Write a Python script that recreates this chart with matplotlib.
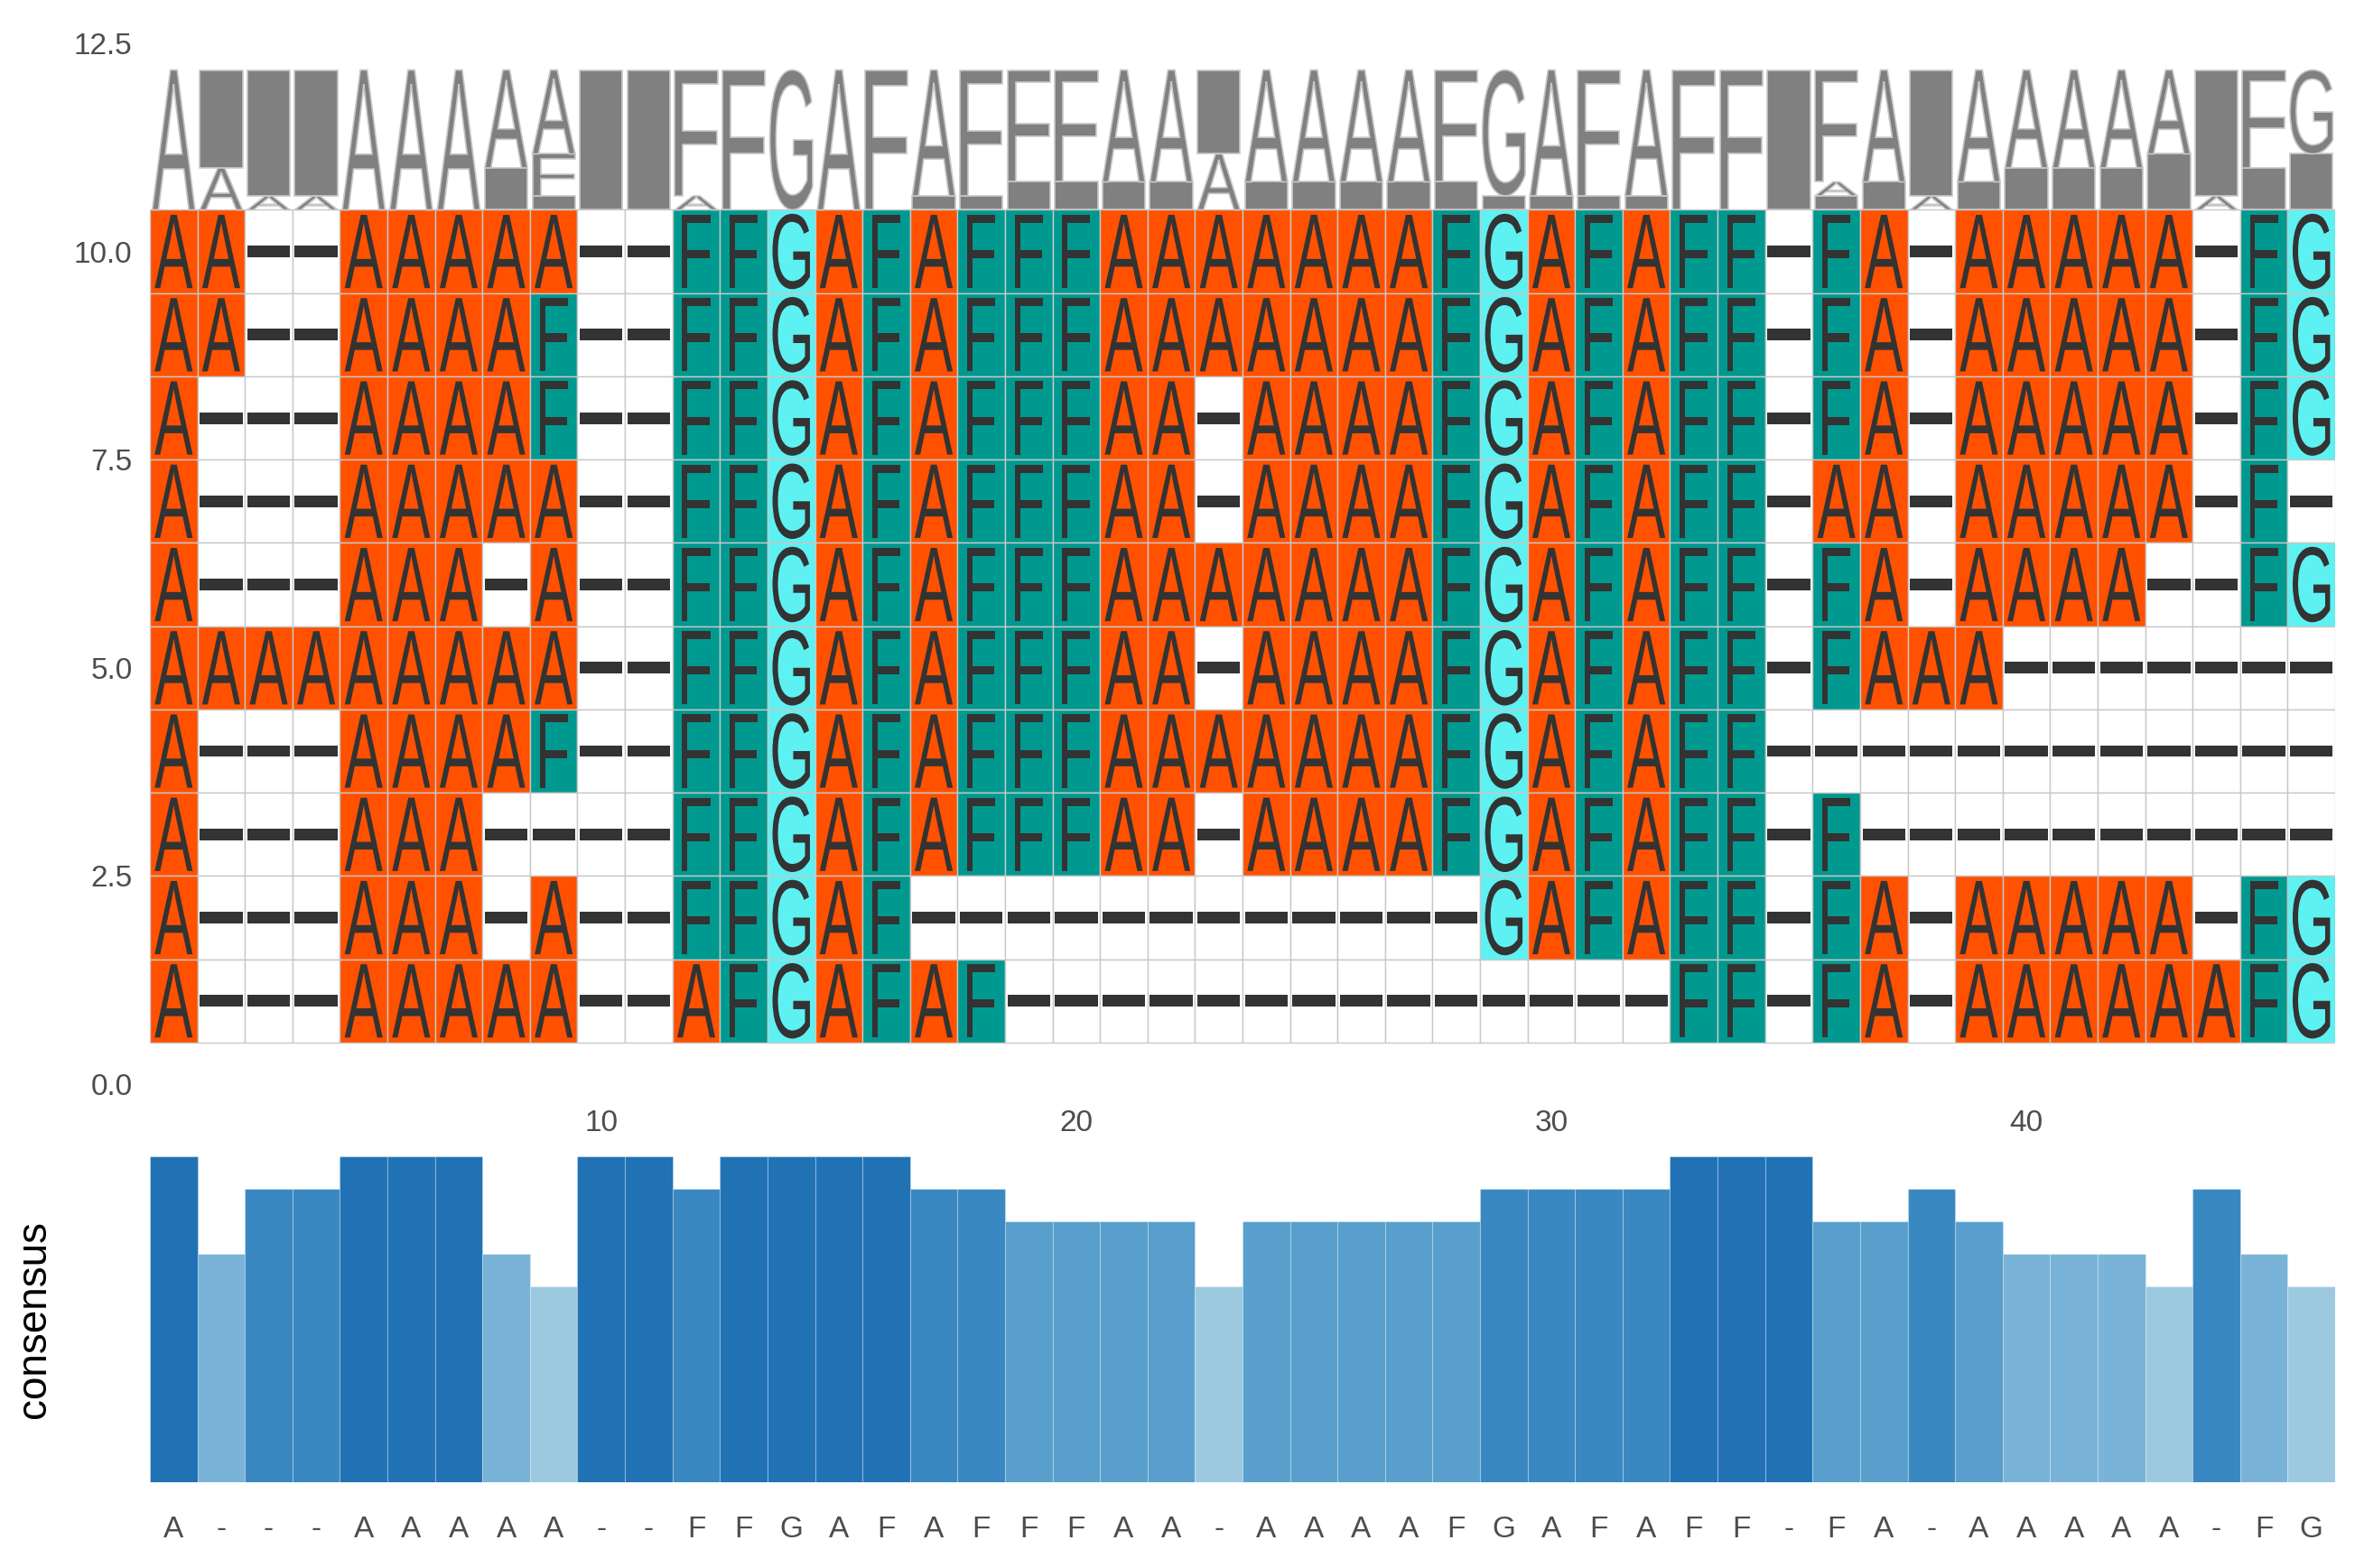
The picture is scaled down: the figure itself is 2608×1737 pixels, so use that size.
import matplotlib
matplotlib.use("Agg")
import matplotlib.pyplot as plt
from matplotlib.textpath import TextPath
from matplotlib.font_manager import FontProperties
from matplotlib.patches import PathPatch, Rectangle
from matplotlib.transforms import Affine2D
from collections import Counter

# ---------------- data ----------------
row_positions = [10, 9, 8, 7, 6, 5, 4, 3, 2, 1]
sequences = [
    "AA--AAAAA--FFGAFAFFFAAAAAAAFGAFAFF-FA-AAAAA-FG",
    "AA--AAAAF--FFGAFAFFFAAAAAAAFGAFAFF-FA-AAAAA-FG",
    "A---AAAAF--FFGAFAFFFAA-AAAAFGAFAFF-FA-AAAAA-FG",
    "A---AAAAA--FFGAFAFFFAA-AAAAFGAFAFF-AA-AAAAA-F-",
    "A---AAA-A--FFGAFAFFFAAAAAAAFGAFAFF-FA-AAAA--FG",
    "AAAAAAAAA--FFGAFAFFFAA-AAAAFGAFAFF-FAAA-------",
    "A---AAAAF--FFGAFAFFFAAAAAAAFGAFAFF------------",
    "A---AAA----FFGAFAFFFAA-AAAAFGAFAFF-F----------",
    "A---AAA-A--FFGAF------------GAFAFF-FA-AAAAA-FG",
    "A---AAAAA--AFGAFAF--------------FF-FA-AAAAAAFG",
]
n_cols = len(sequences[0])
positions = list(range(1, n_cols + 1))
position_ticks = [10, 20, 30, 40]
y_ticks = [0.0, 2.5, 5.0, 7.5, 10.0, 12.5]

residue_colors = {"A": "#FF5100", "F": "#00998F", "G": "#5EF1F2"}
conservation_colors = {10: "#2171B5", 9: "#3A88C1", 8: "#589FCD", 7: "#7AB3D8", 6: "#9DC9E0"}

# ---------------- layout ----------------
W, H, DPI = 2608, 1737, 200
fig = plt.figure(figsize=(W / DPI, H / DPI), dpi=DPI)
fig.patch.set_facecolor("white")

FP = FontProperties(family="Liberation Sans")
TXT = "#4D4D4D"

left, right = 166 / W, 2586 / W
ax = fig.add_axes([left, 1 - 1201 / H, right - left, (1201 - 48) / H])
ax2 = fig.add_axes([left, 1 - 1641.6 / H, right - left, (1641.6 - 1280.7) / H])

path_cache = {}
def glyph(ch):
    if ch not in path_cache:
        tp = TextPath((0, 0), ch, size=1, prop=FP)
        path_cache[ch] = (tp, tp.get_extents())
    return path_cache[ch]

def box_glyph(ch, x0, y0, w, h, **kw):
    tp, bb = glyph(ch)
    tr = (Affine2D().translate(-bb.x0, -bb.y0)
          .scale(w / bb.width, h / bb.height).translate(x0, y0))
    return PathPatch(tr.transform_path(tp), **kw)

# ---------------- alignment tiles ----------------
_, bbA = glyph("A")
kx = 0.80 / bbA.width
ky = 0.88 / bbA.height
for yrow, seq in zip(row_positions, sequences):
    for xpos, ch in zip(positions, seq):
        fc = residue_colors.get(ch, "white")
        ax.add_patch(Rectangle((xpos - 0.5, yrow - 0.5), 1, 1, facecolor=fc,
                               edgecolor="#C8C8C8", linewidth=0.5, zorder=1))
        if ch == "-":
            ax.add_patch(Rectangle((xpos - 0.45, yrow - 0.07), 0.9, 0.14,
                                   facecolor="#333333", edgecolor="none", zorder=2))
        else:
            _, bb = glyph(ch)
            w, h = bb.width * kx, bb.height * ky
            base = yrow - 0.5 + 0.06
            ax.add_patch(box_glyph(ch, xpos - w / 2, base + bb.y0 * ky, w, h,
                                   facecolor="#333333", edgecolor="none", zorder=2))

# ---------------- sequence logo ----------------
logo_bottom, logo_height = 10.5, 1.68
n_seq = len(sequences)
columns = ["".join(s[i] for s in sequences) for i in range(n_cols)]
for xpos, col in zip(positions, columns):
    cnt = sorted(Counter(col).items(), key=lambda kv: (kv[1], kv[0]))
    yb = logo_bottom
    for ch, c in cnt:
        h = c / n_seq * logo_height
        if ch == "-":
            ax.add_patch(Rectangle((xpos - 0.45, yb), 0.9, h, facecolor="#808080",
                                   edgecolor="#C8C8C8", linewidth=0.6, zorder=2))
        else:
            ax.add_patch(box_glyph(ch, xpos - 0.45, yb, 0.9, h, facecolor="#808080",
                                   edgecolor="#C8C8C8", linewidth=0.6, zorder=2))
        yb += h

ax.set_xlim(0.5, n_cols + 0.5)
ax.set_ylim(0, 12.5)
ax.set_yticks(y_ticks)
ax.set_yticklabels([f"{v:.1f}" for v in y_ticks])
ax.set_xticks(position_ticks)
ax.set_xticklabels([str(v) for v in position_ticks])
ax.tick_params(axis="both", length=0, labelsize=12, labelcolor=TXT)
ax.tick_params(axis="y", pad=7)
ax.tick_params(axis="x", pad=10)
for lab in ax.get_xticklabels() + ax.get_yticklabels():
    lab.set_fontfamily("Liberation Sans")
for s in ax.spines.values():
    s.set_visible(False)

# ---------------- consensus bars ----------------
consensus = []
consensus_count = []
for col in columns:
    ch, c = Counter(col).most_common(1)[0]
    consensus.append(ch)
    consensus_count.append(c)
bar_heights = [c / n_seq for c in consensus_count]
bar_colors = [conservation_colors[c] for c in consensus_count]
ax2.bar(positions, bar_heights, width=1.0, color=bar_colors,
        edgecolor=(1, 1, 1, 0.25), linewidth=0.4)
ax2.set_xlim(0.5, n_cols + 0.5)
ax2.set_ylim(0, 1)
ax2.set_yticks([])
ax2.set_xticks(positions)
ax2.set_xticklabels(consensus)
ax2.tick_params(axis="x", length=0, labelsize=12, labelcolor=TXT, pad=13.5)
for lab in ax2.get_xticklabels():
    lab.set_fontfamily("Liberation Sans")
for s in ax2.spines.values():
    s.set_visible(False)

fig.text(38 / W, 1 - (1280.7 + 1641.6) / 2 / H, "consensus", rotation=90,
         ha="center", va="center", fontsize=16.5, color="black", family="Liberation Sans")

fig.savefig("out.png", dpi=DPI, facecolor="white")
